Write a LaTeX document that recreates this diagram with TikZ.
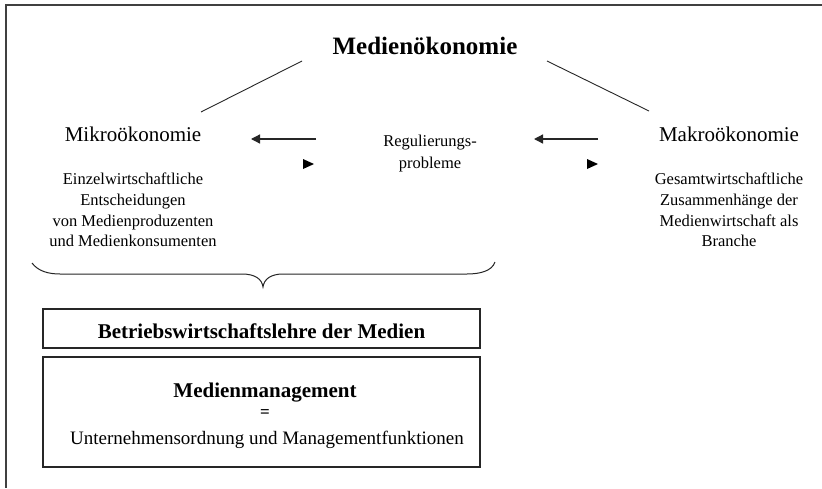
\documentclass[tikz,border=0pt]{standalone}
\usepackage{fontspec}
\setmainfont{Liberation Serif}
\usetikzlibrary{arrows.meta}
\tikzset{
  lbl/.style={inner sep=0pt, outer sep=0pt, align=center},
  frameline/.style={line width=1.5pt, draw=black!75},
  conn/.style={line width=0.9pt, draw=black!85},
  arr/.style={line width=1.3pt, draw=black!85, -{Triangle[length=9pt,width=9pt]}},
  halfhead/.style={fill=black, draw=none},
  boxnode/.style={draw=black!85, line width=1.3pt, inner sep=0pt, minimum width=437pt},
}
\begin{document}
\begin{tikzpicture}[x=1pt,y=-1pt]
\useasboundingbox (0,0) rectangle (822,488);
\fill[white] (0,0) rectangle (822,488);
% outer frame (open on right and bottom)
\coordinate (fTR) at (822,5);
\coordinate (fTL) at (6,5);
\coordinate (fBL) at (6,488);
\draw[frameline] (fTR) -- (fTL) -- (fBL);

% title
\node[lbl, font=\fontsize{25}{28}\selectfont\bfseries] (title) at (425,46) {Medienökonomie};
\coordinate (tL) at (302,61);
\coordinate (mL) at (201,112);
\coordinate (tR) at (547,61);
\coordinate (mR) at (649,111);
\draw[conn] (tL) -- (mL);
\draw[conn] (tR) -- (mR);

% Mikro / Makro headings
\node[lbl, font=\fontsize{21}{24}\selectfont] (mikro) at (133,134) {Mikroökonomie};
\node[lbl, font=\fontsize{21}{24}\selectfont] (makro) at (729,134) {Makroökonomie};

% Regulierungsprobleme
\node[lbl, font=\fontsize{16.5}{22}\selectfont] (reg) at (430,154) {Regulierungs-\\probleme};

% descriptions
\node[lbl, font=\fontsize{16.5}{20.7}\selectfont] (mikrotext) at (133,210)
  {Einzelwirtschaftliche\\Entscheidungen\\von Medienproduzenten\\und Medienkonsumenten};
\node[lbl, font=\fontsize{16.5}{20.7}\selectfont] (makrotext) at (729,210)
  {Gesamtwirtschaftliche\\Zusammenhänge der\\Medienwirtschaft als\\Branche};

% arrows (left part)
\coordinate (a1s) at (316,139);
\coordinate (a1e) at (251,139);
\draw[arr] (a1s) -- (a1e);
\coordinate (h1) at (303,164);
\fill[halfhead] (h1) ++(0,-5) -- ++(11,5) -- ++(-11,5) -- cycle;
% arrows (right part)
\coordinate (a2s) at (598,139);
\coordinate (a2e) at (534,139);
\draw[arr] (a2s) -- (a2e);
\coordinate (h2) at (587,164);
\fill[halfhead] (h2) ++(0,-5) -- ++(11,5) -- ++(-11,5) -- cycle;

% brace
\draw[line width=1pt, black!85]
  (32,263) .. controls (38,271) and (48,274) .. (60,274) -- (242,274)
  .. controls (255,274) and (262,279) .. (263,287)
  .. controls (264,279) and (271,274) .. (283,274) -- (467,274)
  .. controls (480,274) and (492,271) .. (495,262);

% boxes
\node[boxnode, minimum height=39pt] (bwl) at (261.5,328.5) {};
\node[lbl, font=\fontsize{21}{24}\selectfont\bfseries] (bwltext) at (261.5,331) {Betriebswirtschaftslehre der Medien};
\node[boxnode, minimum height=110pt] (mm) at (261.5,412) {};
\node[lbl, font=\fontsize{21}{24}\selectfont\bfseries] (mmtitle) at (265,393) {Medienmanagement};
\node[lbl, font=\fontsize{17}{20}\selectfont\bfseries] (mmeq) at (265,414) {=};
\node[lbl, font=\fontsize{19}{22}\selectfont] (mmtext) at (267,440) {Unternehmensordnung und Managementfunktionen};
\end{tikzpicture}
\end{document}
